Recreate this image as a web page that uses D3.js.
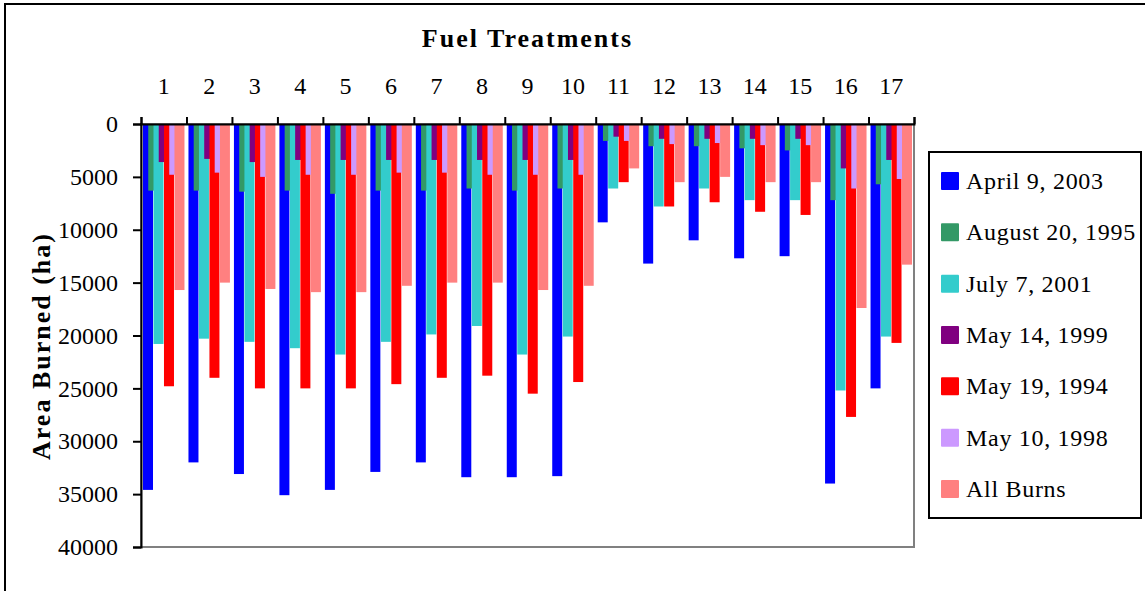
<html>
<head>
<script src="https://cdn.jsdelivr.net/npm/d3@7"></script>
<style>
  body { margin:0; background:#fff; }
  svg { display:block; font-family:"Liberation Serif","Times New Roman",serif; }
  .axis text { font-family:"Liberation Serif","Times New Roman",serif; font-size:24px; fill:#000; }
</style>
</head>
<body>
<div id="container"></div>
<script>
var categories = ["1","2","3","4","5","6","7","8","9","10","11","12","13","14","15","16","17"];
var seriesNames = ["April 9, 2003","August 20, 1995","July 7, 2001","May 14, 1999","May 19, 1994","May 10, 1998","All Burns"];
var seriesColors = ["#0000ff","#339966","#33cccc","#800080","#ff0000","#cc99ff","#ff8080"];
var april2003 = [34600,32000,33100,35100,34600,32900,32000,33400,33400,33300,9300,13200,11000,12700,12500,34000,25000];
var august1995 = [6300,6300,6400,6300,6600,6300,6300,6100,6300,6100,1600,2100,2100,2300,2500,7200,5700];
var july2001 = [20800,20300,20600,21200,21800,20600,19900,19100,21800,20100,6100,7800,6100,7200,7200,25200,20100];
var may1999 = [3600,3300,3600,3400,3400,3400,3400,3400,3400,3400,1200,1400,1400,1400,1400,4200,3400];
var may1994 = [24800,24000,25000,25000,25000,24600,24000,23800,25500,24400,5500,7800,7400,8300,8600,27700,20700];
var may1998 = [4800,4600,5000,4800,4800,4600,4600,4800,4800,4800,1600,1900,1800,2000,2000,6100,5200];
var allBurns = [15700,15000,15600,15900,15900,15300,15000,15000,15700,15300,4200,5500,5000,5500,5500,17400,13300];
var yTicks = [0,5000,10000,15000,20000,25000,30000,35000,40000];

var seriesValues = [april2003, august1995, july2001, may1999, may1994, may1998, allBurns];

var W = 1145, H = 591;
var plotL = 141, plotR = 914, plotT = 124, plotB = 547;

var svg = d3.select("#container").append("svg")
  .attr("width", W).attr("height", H);

// outer frame
svg.append("rect")
  .attr("x", 5).attr("y", 4).attr("width", 1170).attr("height", 620)
  .attr("fill", "none").attr("stroke", "#000").attr("stroke-width", 2);

var x0 = d3.scaleBand().domain(categories).range([plotL, plotR]);
var barW = 10;
var x1 = d3.scalePoint().domain(seriesNames).range([2, x0.bandwidth() - 2 - barW]);
var y = d3.scaleLinear().domain([0, 40000]).range([plotT, plotB]);

// plot area border (grey)
svg.append("rect")
  .attr("x", plotL).attr("y", plotT).attr("width", plotR - plotL).attr("height", plotB - plotT)
  .attr("fill", "none").attr("stroke", "#808080").attr("stroke-width", 2);

// bars, series by series so later ones overlap earlier ones
seriesNames.forEach(function(name, si){
  svg.append("g").selectAll("rect")
    .data(seriesValues[si]).enter().append("rect")
      .attr("x", function(d,i){ return x0(categories[i]) + x1(name); })
      .attr("y", y(0))
      .attr("width", barW)
      .attr("height", function(d){ return y(d) - y(0); })
      .attr("fill", seriesColors[si]);
});

// y axis
var yAxis = svg.append("g").attr("class", "axis")
  .attr("transform", "translate(" + plotL + ",0)")
  .call(d3.axisLeft(y).tickValues(yTicks).tickSize(8).tickPadding(15).tickFormat(function(d){ return d; }));
yAxis.selectAll("line, path").attr("stroke", "#000").attr("stroke-width", 2);

// top category axis: labels
var xAxis = svg.append("g").attr("class", "axis")
  .attr("transform", "translate(0," + plotT + ")")
  .call(d3.axisTop(x0).tickSize(0).tickPadding(30));
xAxis.select(".domain").remove();

// top category axis: boundary ticks + zero line
var xb = d3.scaleLinear().domain([0, categories.length]).range([plotL, plotR]);
var xTickAxis = svg.append("g")
  .attr("transform", "translate(0," + plotT + ")")
  .call(d3.axisTop(xb).ticks(categories.length).tickSize(7).tickSizeOuter(7).tickFormat(""));
xTickAxis.selectAll("line, path").attr("stroke", "#000").attr("stroke-width", 2);

// title
svg.append("text")
  .attr("x", (plotL + plotR) / 2).attr("y", 47)
  .attr("text-anchor", "middle")
  .style("font-size", "26px").attr("font-weight", "bold")
  .attr("letter-spacing", 2)
  .text("Fuel Treatments");

// y title
svg.append("text")
  .attr("transform", "translate(50,346) rotate(-90)")
  .attr("text-anchor", "middle")
  .style("font-size", "26px").attr("font-weight", "bold")
  .attr("letter-spacing", 2)
  .text("Area Burned (ha)");

// legend
var legend = svg.append("g");
legend.append("rect")
  .attr("x", 929).attr("y", 152).attr("width", 212).attr("height", 366)
  .attr("fill", "#fff").attr("stroke", "#000").attr("stroke-width", 2);
var ly = d3.scalePoint().domain(seriesNames).range([181, 489]);
var items = legend.selectAll("g.item").data(seriesNames).enter().append("g")
  .attr("class", "item")
  .attr("transform", function(d){ return "translate(941," + ly(d) + ")"; });
items.append("rect")
  .attr("x", 0).attr("y", -9).attr("width", 18).attr("height", 18).attr("rx", 1)
  .attr("fill", function(d,i){ return seriesColors[i]; });
items.append("text")
  .attr("x", 25).attr("y", 8)
  .style("font-size", "24px")
  .attr("letter-spacing", 0.7)
  .text(function(d){ return d; });
</script>
</body>
</html>
